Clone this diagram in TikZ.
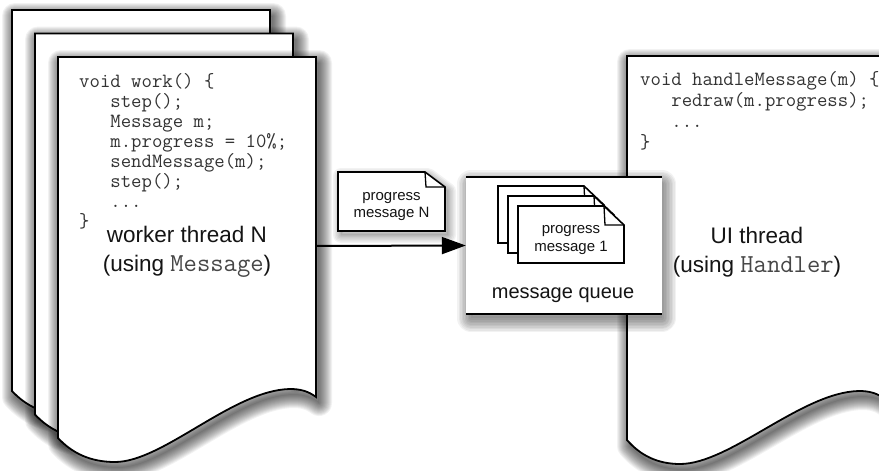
\documentclass[tikz,border=0pt]{standalone}
\usepackage{fontspec}
\setmainfont{Liberation Sans}
\usetikzlibrary{arrows.meta}
\newcommand\codesz{\fontsize{20.2}{20}\selectfont}
\newcommand\ind{\hphantom{abc}}
\newcommand\lblmono[1]{{\fontsize{25.9}{28}\selectfont\ttfamily\textcolor{black!72}{#1}}}
% soft shadow: #1 = shift, #2 = stroke widths, #3 = path
\newcommand\softshadow[3]{%
  \begin{scope}[shift={#1}]
    \fill[black, opacity=0.05] #3;
    \foreach \w in {#2} { \draw[black, opacity=0.05, line width=\w pt, line join=round] #3; }
  \end{scope}}
\begin{document}
\begin{tikzpicture}[x=1pt,y=-1pt,
  page/.style={draw=black, line width=1.8pt, fill=white, line join=miter},
  code/.style={anchor=base west, inner sep=0, font=\ttfamily\codesz, text=black!80},
  biglabel/.style={font=\fontsize{22.5}{28}\selectfont, text=black!92, inner sep=0, anchor=base},
  smalllabel/.style={font=\fontsize{15}{17.5}\selectfont, text=black!92, inner sep=0, anchor=base},
  doc/.style={draw=black, line width=1.6pt, fill=white, line join=miter},
  fold/.style={draw=black, line width=1.3pt, line join=miter},
  edge/.style={draw=black, line width=2pt},
  flow/.style={draw=black, line width=2pt, -{Triangle[length=24pt,width=17pt]}}
]
\clip (0,0) rectangle (879,471);
\fill[white] (0,0) rectangle (879,471);

% worker thread pages (stack)
\foreach \dx/\dy in {-46/-47, -23/-23.5, 0/0} {
  \begin{scope}[shift={(58+\dx,57+\dy)}]
    \softshadow{(3,6)}{26,24,22,20,18,16,14,12,10,8,6,4,2}{(0,0) -- (258,0) -- (258,340)
      .. controls (250,334) and (242,332) .. (232,332)
      .. controls (175,333) and (105,405) .. (57,405)
      .. controls (32,405) and (14,396) .. (0,381) -- cycle}
    \draw[page] (0,0) -- (258,0) -- (258,340)
      .. controls (250,334) and (242,332) .. (232,332)
      .. controls (175,333) and (105,405) .. (57,405)
      .. controls (32,405) and (14,396) .. (0,381) -- cycle;
  \end{scope}
}
\coordinate (workerR) at (316,246);

\node[code] (w1) at (79,87)  {void work() \{};
\node[code] (w2) at (79,107) {\ind step();};
\node[code] (w3) at (79,127) {\ind Message m;};
\node[code] (w4) at (79,147) {\ind m.progress = 10\%;};
\node[code] (w5) at (79,167) {\ind sendMessage(m);};
\node[code] (w6) at (79,187) {\ind step();};
\node[code] (w7) at (79,207) {\ind ...};
\node[code] (w8) at (79,227) {\}};

\node[biglabel] (wt1) at (187,242) {worker thread N};
\node[biglabel] (wt2) at (187,271) {(using \lblmono{Message})};

% UI thread page
\softshadow{(3,6)}{26,24,22,20,18,16,14,12,10,8,6,4,2}{(627,56) -- (930,56) -- (930,405) -- (885,399)
  .. controls (877,393) and (869,391) .. (859,391)
  .. controls (802,392) and (730,464) .. (680,464)
  .. controls (657,464) and (640,455) .. (627,440) -- cycle}
\draw[page] (627,56) -- (930,56) -- (930,405) -- (885,399)
  .. controls (877,393) and (869,391) .. (859,391)
  .. controls (802,392) and (730,464) .. (680,464)
  .. controls (657,464) and (640,455) .. (627,440) -- cycle;

\node[code] (u1) at (640,85)  {void handleMessage(m) \{};
\node[code] (u2) at (640,106) {\ind redraw(m.progress);};
\node[code] (u3) at (640,127) {\ind ...};
\node[code] (u4) at (640,148) {\}};

\node[biglabel] (ut1) at (757,243) {UI thread};
\node[biglabel] (ut2) at (757,272) {(using \lblmono{Handler})};

% message queue
\softshadow{(0,0)}{28,25,22,19,16,13,10,7,4}{(471,184) rectangle (662,318)}
\node[fill=white, inner sep=0, minimum width=196pt, minimum height=137pt]
  (queue) at (564,245.5) {};
\draw[edge] (queue.north west) -- (queue.north east);
\draw[edge] (queue.south west) -- (queue.south east);

\foreach \l/\t in {498/186, 508/196, 518/206} {
  \draw[doc] (\l,\t) -- ({\l+86},\t) -- ({\l+106},{\t+19}) -- ({\l+106},{\t+57}) -- (\l,{\t+57}) -- cycle;
  \draw[fold] ({\l+86},\t) -- ({\l+87},{\t+19}) -- ({\l+106},{\t+19});
}
\node[smalllabel] (q1a) at (571,233) {progress};
\node[smalllabel] (q1b) at (571,251) {message 1};
\node[font=\fontsize{20}{24}\selectfont, text=black!92, inner sep=0, anchor=base] (ql) at (563,298) {message queue};

% progress message N
\softshadow{(3,4)}{16,13,10,7,4,2}{(338,172) -- (425,172) -- (445,187) -- (445,231) -- (338,231) -- cycle}
\draw[doc] (338,172) -- (425,172) -- (445,187) -- (445,231) -- (338,231) -- cycle;
\draw[fold] (425,172) -- (426,187) -- (445,187);
\node[smalllabel] (pN1) at (391.5,200) {progress};
\node[smalllabel] (pN2) at (391.5,217) {message N};

% arrow
\draw[flow] (workerR) -- (queue.west);
\end{tikzpicture}
\end{document}
